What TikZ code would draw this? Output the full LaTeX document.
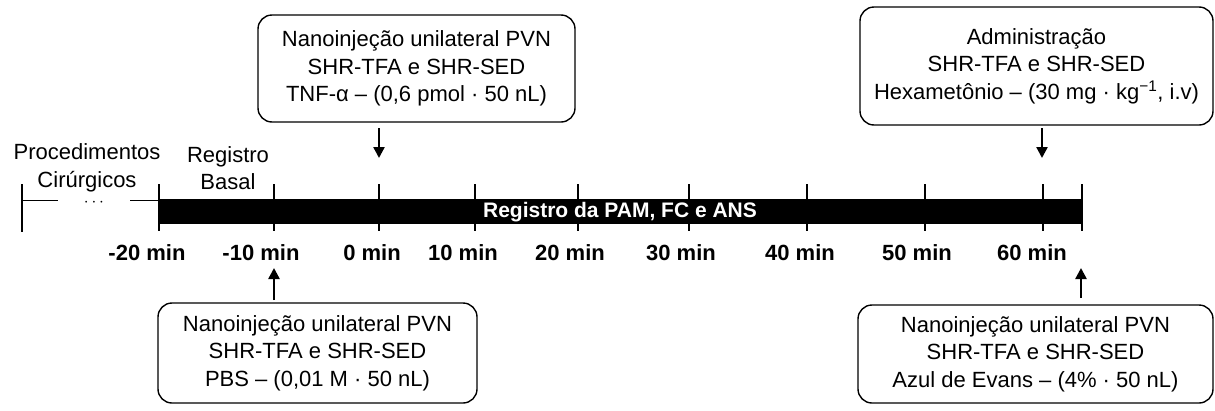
\documentclass[tikz,border=0pt]{standalone}
\usepackage{fontspec}
\setmainfont{Liberation Sans}
\usetikzlibrary{arrows.meta}
\tikzset{infobox/.style = {draw, rounded corners = 14pt, line width = 1.4pt, align = center, inner sep = 0pt, font = \fontsize{22}{27.5}\selectfont}}
\tikzset{phase/.style = {align = center, inner sep = 0pt, font = \fontsize{22}{27.5}\selectfont}}
\tikzset{timelabel/.style = {inner sep = 0pt, font = \fontsize{22}{26}\selectfont\bfseries}}
\tikzset{barlabel/.style = {inner sep = 0pt, text = white, font = \fontsize{21}{24}\selectfont\bfseries}}
\tikzset{tickmark/.style = {line width = 1.2pt}}
\tikzset{edge/.style = {line width = 2.4pt, -{Triangle[length = 11pt, width = 11pt]}}}

\begin{document}
\begin{tikzpicture}[x = 1pt, y = -1pt]
				\useasboundingbox (0, 0) rectangle (1215, 410);

				\node[infobox, minimum width = 317pt, minimum height = 107pt] (tnf) at (416.5, 68.5) {Nanoinjeção unilateral PVN\\SHR-TFA e SHR-SED\\TNF-α – (0,6 pmol · 50 nL)};
				\node[infobox, minimum width = 353pt, minimum height = 118pt] (hexa) at (1036.5, 66) {Administração\\SHR-TFA e SHR-SED\\Hexametônio – (30 mg · kg\textsuperscript{−1}, i.v)};
				\node[infobox, minimum width = 319pt, minimum height = 100pt] (pbs) at (317.5, 353) {Nanoinjeção unilateral PVN\\SHR-TFA e SHR-SED\\PBS – (0,01 M · 50 nL)};
				\node[infobox, minimum width = 355pt, minimum height = 98pt] (evans) at (1035.5, 354) {Nanoinjeção unilateral PVN\\SHR-TFA e SHR-SED\\Azul de Evans – (4\% · 50 nL)};

				\node[phase] (proc) at (87, 168) {Procedimentos\\Cirúrgicos};
				\node[phase] (basal) at (228, 168) {Registro\\Basal};

				\draw[tickmark] (22, 184) -- (22, 232);
				\draw[tickmark] (159, 184) -- (159, 231);
				\draw[tickmark] (274, 184) -- (274, 231);
				\draw[tickmark] (379, 184) -- (379, 231);
				\draw[tickmark] (475, 184) -- (475, 231);
				\draw[tickmark] (578, 184) -- (578, 231);
				\draw[tickmark] (689, 184) -- (689, 231);
				\draw[tickmark] (807, 184) -- (807, 231);
				\draw[tickmark] (925, 184) -- (925, 231);
				\draw[tickmark] (1043, 184) -- (1043, 231);
				\draw[tickmark] (1082, 184) -- (1082, 231);

				\draw[line width = 1pt] (22, 200) -- (159, 200);
				\node[fill = white, minimum width = 72pt, minimum height = 9pt, inner sep = 0pt] (dots) at (94, 203) {\fontsize{18}{18}\selectfont $\cdots$};

				\fill (159, 199) rectangle (1082, 224);
				\node[barlabel] (rec) at (620, 212) {Registro da PAM, FC e ANS};

				\node[timelabel] (m20) at (147, 253) {-20 min};
				\node[timelabel] (m10) at (261, 253) {-10 min};
				\node[timelabel] (p0) at (372, 253) {0 min};
				\node[timelabel] (p10) at (463, 253) {10 min};
				\node[timelabel] (p20) at (570, 253) {20 min};
				\node[timelabel] (p30) at (681, 253) {30 min};
				\node[timelabel] (p40) at (800, 253) {40 min};
				\node[timelabel] (p50) at (917, 253) {50 min};
				\node[timelabel] (p60) at (1032, 253) {60 min};

				\coordinate (tnfa) at (379, 128);
				\coordinate (tnfb) at (379, 158);
				\coordinate (hexaa) at (1042, 128);
				\coordinate (hexab) at (1042, 158);
				\coordinate (pbsa) at (274, 300);
				\coordinate (pbsb) at (274, 268);
				\coordinate (evansa) at (1081, 298);
				\coordinate (evansb) at (1081, 268);

				\draw[edge] (tnfa) to (tnfb);
				\draw[edge] (hexaa) to (hexab);
				\draw[edge] (pbsa) to (pbsb);
				\draw[edge] (evansa) to (evansb);
			\end{tikzpicture}
\end{document}
